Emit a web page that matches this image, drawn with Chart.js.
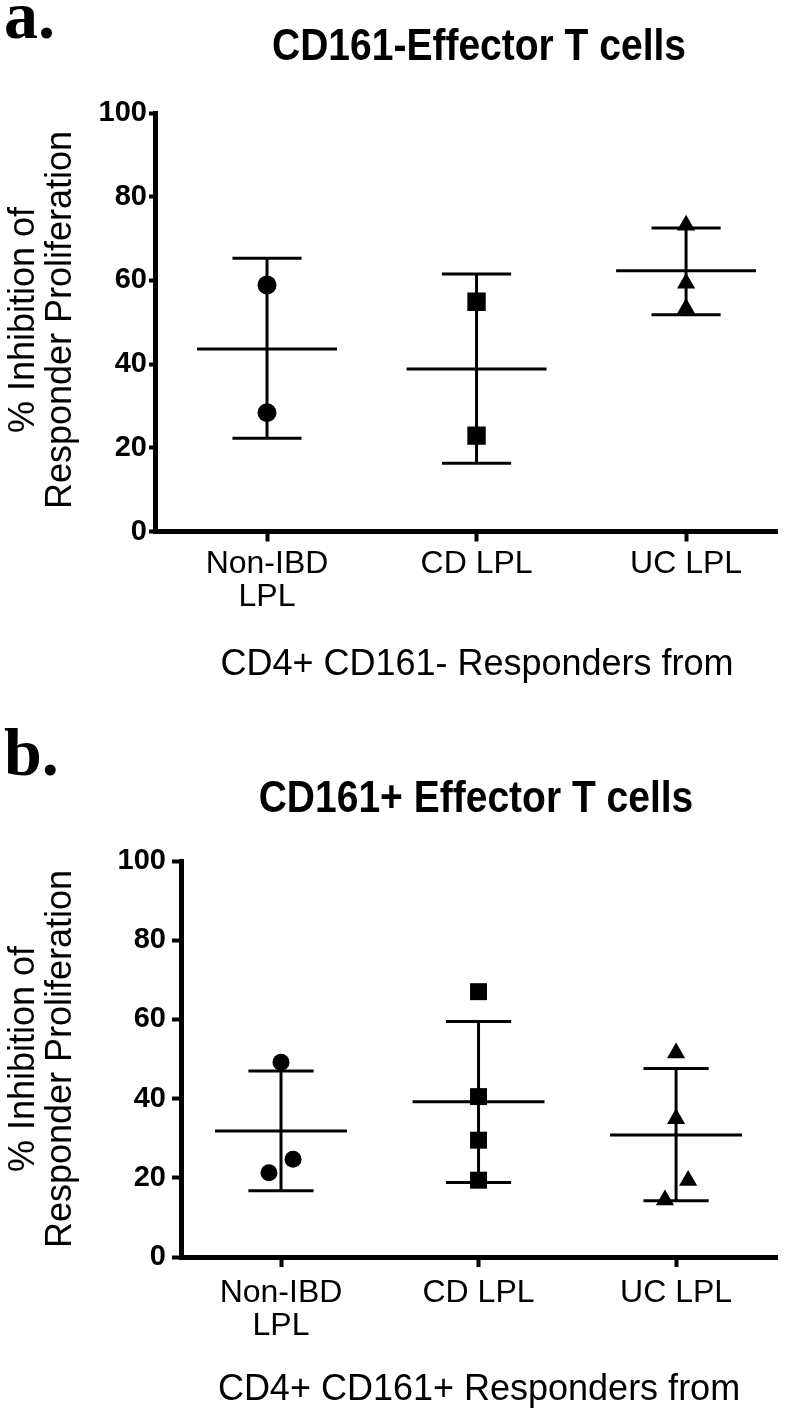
<!DOCTYPE html>
<html lang="en">
    <head>
        <meta charset="UTF-8" />
        <title>CD161 Effector T cells - inhibition of responder proliferation</title>
        <script src="https://cdn.jsdelivr.net/npm/chart.js@4"></script>
        <style>
            body { margin: 0; background: #fff; }
            canvas { display: block; }
        </style>
    </head>
    <body>
        <canvas id="chartA" width="800" height="705"></canvas>
        <canvas id="chartB" width="800" height="705"></canvas>

        <script>
            // categories on the x axis (1, 2, 3)
            const categories = [["Non-IBD", "LPL"], "CD LPL", "UC LPL"];
            const yTicks = [0, 20, 40, 60, 80, 100];

            // panel a: CD161- effector T cells
            const aNonIbd = [58.9, 28.4];
            const aNonIbdJitter = [0, 0];
            const aCd = [54.9, 22.9];
            const aCdJitter = [0, 0];
            const aUc = [73.2, 59.3, 53.3];
            const aUcJitter = [0, 0, 0];
            const aMean = [43.6, 38.8, 62.3];
            const aSdHigh = [65.3, 61.5, 72.5];
            const aSdLow = [22.3, 16.3, 51.8];

            // panel b: CD161+ effector T cells
            const bNonIbd = [49.2, 24.7, 21.3];
            const bNonIbdJitter = [0, 0.061, -0.061];
            const bCd = [67.0, 40.5, 29.5, 19.4];
            const bCdJitter = [0, 0, 0, 0];
            const bUc = [51.5, 34.9, 19.3, 14.4];
            const bUcJitter = [0, 0, 0.061, -0.056];
            const bMean = [31.8, 39.2, 30.8];
            const bSdHigh = [47.0, 59.5, 47.6];
            const bSdLow = [16.7, 18.8, 14.2];

            const FONT = '"Liberation Sans", Arial, sans-serif';

            const panelText = {
                id: "panelText",
                afterDraw(chart, args, o) {
                    const ctx = chart.ctx;
                    ctx.save();
                    ctx.fillStyle = "#000";

                    ctx.font = 'bold 68px "Liberation Serif", "Times New Roman", serif';
                    ctx.textAlign = "left";
                    ctx.textBaseline = "alphabetic";
                    ctx.fillText(o.letter, 4, o.letterY);

                    ctx.textAlign = "center";
                    ctx.textBaseline = "middle";
                    ctx.save();
                    ctx.translate(o.titleX, o.titleY);
                    ctx.scale(1, 1.12);
                    ctx.font = "bold 39px " + FONT;
                    ctx.fillText(o.title, 0, 0);
                    ctx.restore();

                    ctx.font = "36px " + FONT;
                    ctx.fillText(o.xTitle, o.xTitleX, o.xTitleY);

                    ctx.translate(0, o.yTitleY);
                    ctx.rotate(-Math.PI / 2);
                    ctx.fillText("% Inhibition of", 0, 24);
                    ctx.fillText("Responder Proliferation", 0, 61);
                    ctx.restore();
                },
            };

            function pts(values, jitter, cat) {
                return values.map((v, i) => ({ x: cat + jitter[i], y: v }));
            }

            function seg(x1, x2, y1, y2) {
                return {
                    type: "line",
                    data: [{ x: x1, y: y1 }, { x: x2, y: y2 }],
                    borderColor: "#000",
                    borderWidth: 3,
                    borderCapStyle: "butt",
                    pointRadius: 0,
                    showLine: true,
                    fill: false,
                };
            }

            function summaryLines(mean, high, low) {
                const out = [];
                mean.forEach((m, i) => {
                    const c = i + 1;
                    out.push(seg(c - 0.334, c + 0.334, m, m));
                    out.push(seg(c - 0.165, c + 0.165, high[i], high[i]));
                    out.push(seg(c - 0.165, c + 0.165, low[i], low[i]));
                    out.push(seg(c, c, low[i], high[i]));
                });
                return out;
            }

            function marker(data, style, radius) {
                return {
                    data: data,
                    pointStyle: style,
                    pointRadius: radius,
                    backgroundColor: "#000",
                    borderColor: "#000",
                    borderWidth: 0,
                };
            }

            function makeChart(id, p) {
                return new Chart(document.getElementById(id), {
                    type: "scatter",
                    data: {
                        datasets: [
                            marker(pts(p.nonIbd, p.nonIbdJitter, 1), "circle", p.circleR),
                            marker(pts(p.cd, p.cdJitter, 2), "rect", p.rectR),
                            marker(pts(p.uc, p.ucJitter, 3), "triangle", p.triR),
                        ].concat(summaryLines(p.mean, p.high, p.low)),
                    },
                    options: {
                        responsive: false,
                        animation: false,
                        devicePixelRatio: 1,
                        layout: {
                            padding: { top: p.top, right: 800 - p.right, left: 0, bottom: 0 },
                        },
                        plugins: {
                            legend: { display: false },
                            tooltip: { enabled: false },
                            panelText: p.text,
                        },
                        scales: {
                            x: {
                                type: "linear",
                                min: p.xMin,
                                max: p.xMax,
                                afterBuildTicks(scale) {
                                    scale.ticks = [{ value: 1 }, { value: 2 }, { value: 3 }];
                                },
                                afterFit(scale) {
                                    scale.height = p.xAxisH;
                                },
                                ticks: {
                                    autoSkip: false,
                                    maxRotation: 0,
                                    color: "#000",
                                    padding: p.xPad,
                                    font: { family: FONT, size: 32, lineHeight: 1.03 },
                                    callback: (v) => categories[v - 1],
                                },
                                grid: {
                                    drawOnChartArea: false,
                                    tickLength: 10,
                                    tickWidth: 4,
                                    tickColor: "#000",
                                },
                                border: { display: true, color: "#000", width: 5 },
                            },
                            y: {
                                min: 0,
                                max: 100,
                                afterBuildTicks(scale) {
                                    scale.ticks = yTicks.map((v) => ({ value: v }));
                                },
                                afterFit(scale) {
                                    scale.width = p.left;
                                },
                                ticks: {
                                    color: "#000",
                                    padding: p.yPad,
                                    font: { family: FONT, size: 29, weight: "bold" },
                                },
                                grid: {
                                    drawOnChartArea: false,
                                    tickLength: p.yTick,
                                    tickWidth: 4,
                                    tickColor: "#000",
                                },
                                border: { display: true, color: "#000", width: 5 },
                            },
                        },
                    },
                    plugins: [panelText],
                });
            }

            makeChart("chartA", {
                nonIbd: aNonIbd, nonIbdJitter: aNonIbdJitter,
                cd: aCd, cdJitter: aCdJitter,
                uc: aUc, ucJitter: aUcJitter,
                mean: aMean, high: aSdHigh, low: aSdLow,
                circleR: 9.5, rectR: 13, triR: 10.5,
                top: 113, left: 155, right: 777, xAxisH: 173.5,
                xMin: 0.4654, xMax: 3.434,
                xPad: 6, yPad: 2, yTick: 6,
                text: {
                    letter: "a.", letterY: 38,
                    title: "CD161-Effector T cells", titleX: 479, titleY: 48,
                    xTitle: "CD4+ CD161- Responders from", xTitleX: 477, xTitleY: 665,
                    yTitleY: 320,
                },
            });

            makeChart("chartB", {
                nonIbd: bNonIbd, nonIbdJitter: bNonIbdJitter,
                cd: bCd, cdJitter: bCdJitter,
                uc: bUc, ucJitter: bUcJitter,
                mean: bMean, high: bSdHigh, low: bSdLow,
                circleR: 8.5, rectR: 12, triR: 10.5,
                top: 156, left: 181, right: 777, xAxisH: 153,
                xMin: 0.4937, xMax: 3.511,
                xPad: 10, yPad: 6, yTick: 9,
                text: {
                    letter: "b.", letterY: 70,
                    title: "CD161+ Effector T cells", titleX: 476, titleY: 95,
                    xTitle: "CD4+ CD161+ Responders from", xTitleX: 479, xTitleY: 685,
                    yTitleY: 354,
                },
            });
        </script>
    </body>
</html>
